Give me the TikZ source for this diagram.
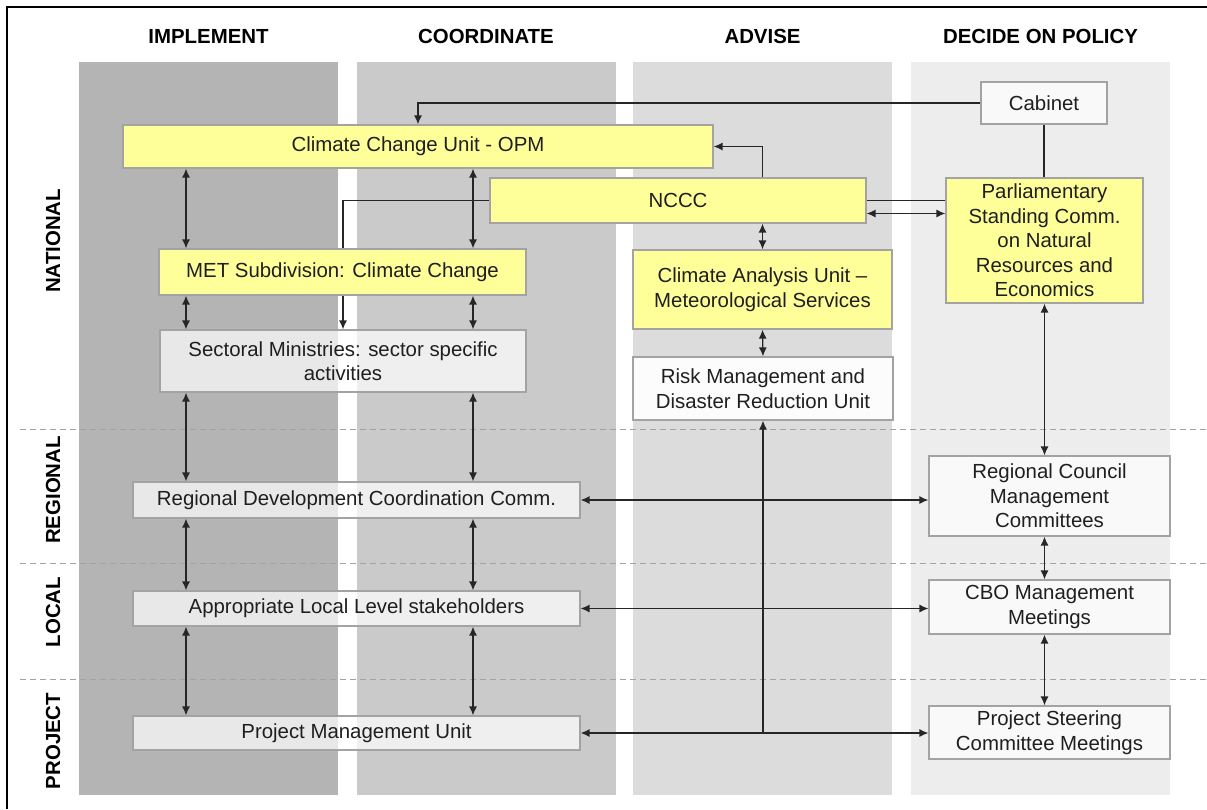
\documentclass[tikz,border=0pt]{standalone}
\usepackage{fontspec}
\setmainfont{Liberation Sans}
\usetikzlibrary{arrows.meta,backgrounds}

\definecolor{implcol}{HTML}{B4B4B4}
\definecolor{coordcol}{HTML}{CACACA}
\definecolor{advcol}{HTML}{DCDCDC}
\definecolor{deccol}{HTML}{EDEDED}
\definecolor{unityellow}{HTML}{FFFF99}
\definecolor{boxline}{HTML}{A3A3A3}
\definecolor{linkcol}{HTML}{262626}

\tikzset{
    basebox/.style={draw=boxline, line width=1.2pt, inner sep=0pt, align=center,
        text=black!88, font=\fontsize{20.4}{24.5}\selectfont},
    yellowbox/.style={basebox, fill=unityellow},
    greybox/.style={basebox, fill=white, fill opacity=0.7, text opacity=1},
    linkline/.style={draw=linkcol, line width=1.3pt},
    colhead/.style={font=\fontsize{20.4}{24}\selectfont\bfseries},
    rowhead/.style={font=\fontsize{20.4}{24}\selectfont\bfseries, rotate=90},
}

\begin{document}
\begin{tikzpicture}[x=1pt, y=-1pt, >={Latex[length=9pt,width=8pt]}]
        \useasboundingbox (0,0) rectangle (1207,809);

        % Columns and dashed level separators
        \begin{scope}[on background layer]
            \foreach \x/\c in {79/implcol, 357/coordcol, 633/advcol, 911/deccol}
                \fill[\c] (\x,62) rectangle ++(259,733);
            \foreach \y in {429,563,679}
                \draw[boxline, line width=1pt, dash pattern=on 6pt off 4pt] (20,\y) -- (1207,\y);
        \end{scope}

        % Frame
        \draw[line width=2pt] (7,809) -- (7,7) -- (1207,7);

        % Column headings
        \node[colhead] (himpl) at (208.5,36) {IMPLEMENT};
        \node[colhead] (hcoord) at (486,36) {COORDINATE};
        \node[colhead] (hadv) at (762.5,36) {ADVISE};
        \node[colhead] (hdec) at (1040.5,36) {DECIDE ON POLICY};

        % Level labels
        \node[rowhead] (lnat) at (53,241) {NATIONAL};
        \node[rowhead] (lreg) at (53,490) {REGIONAL};
        \node[rowhead] (lloc) at (53,612) {LOCAL};
        \node[rowhead] (lproj) at (53,741) {PROJECT};

        % National level
        \node[greybox, minimum width=126pt, minimum height=42pt] (cab) at (1044,103) {Cabinet};
        \node[yellowbox, minimum width=590pt, minimum height=43pt] (ccu) at (418,146.5) {Climate Change Unit - OPM};
        \node[yellowbox, minimum width=376pt, minimum height=45pt] (nccc) at (678,200.5) {NCCC};
        \node[yellowbox, minimum width=197pt, minimum height=125pt] (parl) at (1044.5,240.5)
            {Parliamentary\\Standing Comm.\\on Natural\\Resources and\\Economics};
        \node[yellowbox, minimum width=367pt, minimum height=46pt] (met) at (342.5,272) {MET Subdivision: Climate Change};
        \node[yellowbox, minimum width=259pt, minimum height=79pt] (cau) at (762.5,289.5)
            {Climate Analysis Unit --\\Meteorological Services};
        \node[greybox, minimum width=366pt, minimum height=62pt] (sect) at (343,361)
            {Sectoral Ministries: sector specific\\activities};
        \node[greybox, fill opacity=0.92, minimum width=260pt, minimum height=63pt] (risk) at (763,388.5)
            {Risk Management and\\Disaster Reduction Unit};

        % Regional, local and project levels
        \node[greybox, minimum width=447pt, minimum height=36pt] (regdev) at (356.5,500) {Regional Development Coordination Comm.};
        \node[greybox, minimum width=241pt, minimum height=80pt] (rc) at (1049.5,496)
            {Regional Council\\Management\\Committees};
        \node[greybox, minimum width=447pt, minimum height=35pt] (stake) at (356.5,608.5) {Appropriate Local Level stakeholders};
        \node[greybox, minimum width=241pt, minimum height=54pt] (cbo) at (1049.5,607) {CBO Management\\Meetings};
        \node[greybox, minimum width=447pt, minimum height=34pt] (pmu) at (356.5,733) {Project Management Unit};
        \node[greybox, minimum width=241pt, minimum height=53pt] (psc) at (1049.5,732.5)
            {Project Steering\\Committee Meetings};

        % Links at the top
        \draw[linkline, ->] (cab.west) -| (ccu.north);
        \draw[linkline] (cab.south) -- (cab.south |- parl.north);
        \draw[linkline, ->] (nccc.north -| cau.north) |- (ccu.east);
        \draw[linkline, <->] (nccc.south -| cau.north) -- (cau.north);
        \draw[linkline, <->] (cau.south) -- (risk.north);
        \draw[linkline, <->] ([yshift=-13pt]nccc.east) -- ([yshift=-13pt]nccc.east -| parl.west);

        % runs behind the NCCC box
        \begin{scope}[on background layer]
            \draw[linkline, ->] (parl.west |- nccc.east) -| (sect.north);
        \end{scope}

        % Vertical links down the left columns
        \coordinate (li) at (186,0);
        \coordinate (ri) at (473,0);
        \foreach \a/\b in {ccu/met, met/sect, sect/regdev, regdev/stake, stake/pmu} {
            \draw[linkline, <->] (\a.south -| li) -- (\b.north -| li);
            \draw[linkline, <->] (\a.south -| ri) -- (\b.north -| ri);
        }

        % Policy side
        \foreach \a/\b in {parl/rc, rc/cbo, cbo/psc}
            \draw[linkline, <->] (\a.south -| parl.south) -- (\b.north -| parl.south);

        % Across the levels
        \draw[linkline, <->] (regdev.east) -- (regdev.east -| rc.west);
        \draw[linkline, <->] (stake.east) -- (stake.east -| cbo.west);
        \draw[linkline, <->] (pmu.east) -- (pmu.east -| psc.west);
        \draw[linkline, ->] (pmu.east -| risk.south) -- (risk.south);

\end{tikzpicture}
\end{document}
